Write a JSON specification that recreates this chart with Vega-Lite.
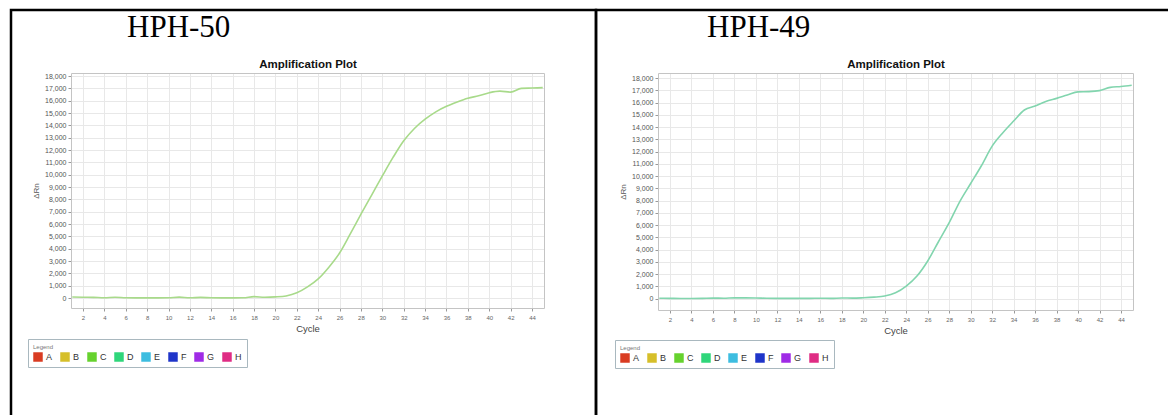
{
  "$schema": "https://vega.github.io/schema/vega-lite/v6.json",
  "background": "white",
  "padding": {"left": 9, "top": 8, "right": 0, "bottom": 0},
  "autosize": {"type": "pad"},
  "bounds": "flush",
  "spacing": 0,
  "datasets": {
    "hph50": [
      {"cycle": 1, "drn": 80}, {"cycle": 2, "drn": 60}, {"cycle": 3, "drn": 50}, {"cycle": 4, "drn": 20}, {"cycle": 5, "drn": 60},
      {"cycle": 6, "drn": 20}, {"cycle": 7, "drn": 10}, {"cycle": 8, "drn": 10}, {"cycle": 9, "drn": 10}, {"cycle": 10, "drn": 20},
      {"cycle": 11, "drn": 70}, {"cycle": 12, "drn": 20}, {"cycle": 13, "drn": 50}, {"cycle": 14, "drn": 20}, {"cycle": 15, "drn": 10},
      {"cycle": 16, "drn": 10}, {"cycle": 17, "drn": 20}, {"cycle": 18, "drn": 110}, {"cycle": 19, "drn": 60}, {"cycle": 20, "drn": 90},
      {"cycle": 21, "drn": 170}, {"cycle": 22, "drn": 420}, {"cycle": 23, "drn": 900}, {"cycle": 24, "drn": 1550}, {"cycle": 25, "drn": 2500},
      {"cycle": 26, "drn": 3650}, {"cycle": 27, "drn": 5200}, {"cycle": 28, "drn": 6800}, {"cycle": 29, "drn": 8350}, {"cycle": 30, "drn": 9900},
      {"cycle": 31, "drn": 11400}, {"cycle": 32, "drn": 12750}, {"cycle": 33, "drn": 13750}, {"cycle": 34, "drn": 14500}, {"cycle": 35, "drn": 15100},
      {"cycle": 36, "drn": 15550}, {"cycle": 37, "drn": 15900}, {"cycle": 38, "drn": 16200}, {"cycle": 39, "drn": 16400}, {"cycle": 40, "drn": 16650},
      {"cycle": 41, "drn": 16780}, {"cycle": 42, "drn": 16700}, {"cycle": 43, "drn": 17000}, {"cycle": 44, "drn": 17030}, {"cycle": 45, "drn": 17060}
    ],
    "hph49": [
      {"cycle": 1, "drn": 40}, {"cycle": 2, "drn": 30}, {"cycle": 3, "drn": 20}, {"cycle": 4, "drn": 20}, {"cycle": 5, "drn": 30},
      {"cycle": 6, "drn": 50}, {"cycle": 7, "drn": 40}, {"cycle": 8, "drn": 70}, {"cycle": 9, "drn": 70}, {"cycle": 10, "drn": 60},
      {"cycle": 11, "drn": 40}, {"cycle": 12, "drn": 30}, {"cycle": 13, "drn": 30}, {"cycle": 14, "drn": 30}, {"cycle": 15, "drn": 30},
      {"cycle": 16, "drn": 40}, {"cycle": 17, "drn": 30}, {"cycle": 18, "drn": 60}, {"cycle": 19, "drn": 50}, {"cycle": 20, "drn": 80},
      {"cycle": 21, "drn": 130}, {"cycle": 22, "drn": 220}, {"cycle": 23, "drn": 480}, {"cycle": 24, "drn": 1030}, {"cycle": 25, "drn": 1850},
      {"cycle": 26, "drn": 3080}, {"cycle": 27, "drn": 4650}, {"cycle": 28, "drn": 6200}, {"cycle": 29, "drn": 7950}, {"cycle": 30, "drn": 9400},
      {"cycle": 31, "drn": 10850}, {"cycle": 32, "drn": 12450}, {"cycle": 33, "drn": 13550}, {"cycle": 34, "drn": 14500}, {"cycle": 35, "drn": 15400},
      {"cycle": 36, "drn": 15720}, {"cycle": 37, "drn": 16100}, {"cycle": 38, "drn": 16350}, {"cycle": 39, "drn": 16620}, {"cycle": 40, "drn": 16880},
      {"cycle": 41, "drn": 16900}, {"cycle": 42, "drn": 16980}, {"cycle": 43, "drn": 17250}, {"cycle": 44, "drn": 17320}, {"cycle": 45, "drn": 17420}
    ],
    "wells": [
      {"well": "A"}, {"well": "B"}, {"well": "C"}, {"well": "D"}, {"well": "E"}, {"well": "F"}, {"well": "G"}, {"well": "H"}
    ]
  },
  "hconcat": [
    {
      "width": 585,
      "height": 416,
      "title": {"text": "HPH-50", "anchor": "start", "frame": "group", "orient": "top", "offset": -34, "dx": 116, "baseline": "top", "font": "Liberation Serif", "fontSize": 31, "fontWeight": "normal", "color": "#000"},
      "layer": [
        {
          "data": {"name": "hph50"},
          "mark": {"type": "line", "color": "#a8da8a", "strokeWidth": 1.6, "interpolate": "monotone"},
          "encoding": {
            "x": {"field": "cycle", "type": "quantitative",
              "scale": {"domain": [0.88, 45.12], "range": [60, 533], "nice": false, "zero": false},
              "axis": {"orient": "bottom", "offset": -118, "values": [2,4,6,8,10,12,14,16,18,20,22,24,26,28,30,32,34,36,38,40,42,44], "grid": false, "tickSize": 3, "labelFontSize": 6, "labelColor": "#666", "labelPadding": 3, "title": "Cycle", "titleFontSize": 9.5, "titleFontWeight": "normal", "titleColor": "#444", "titlePadding": 3}},
            "y": {"field": "drn", "type": "quantitative",
              "scale": {"domain": [-810, 18250], "range": [298, 63], "nice": false, "zero": false},
              "axis": {"orient": "left", "offset": -60, "values": [0,1000,2000,3000,4000,5000,6000,7000,8000,9000,10000,11000,12000,13000,14000,15000,16000,17000,18000], "format": ",d", "grid": true, "tickSize": 3, "labelFontSize": 7, "labelColor": "#555", "labelPadding": 2, "title": "ΔRn", "titleFontSize": 8, "titleFontWeight": "normal", "titleColor": "#555", "titlePadding": 4}}
          }
        },
        {
          "data": {"name": "hph50"},
          "mark": {"type": "line", "opacity": 0},
          "encoding": {
            "x": {"field": "cycle", "type": "quantitative",
              "axis": {"orient": "top", "offset": -63, "values": [2,4,6,8,10,12,14,16,18,20,22,24,26,28,30,32,34,36,38,40,42,44], "grid": true, "ticks": false, "labels": false, "title": "Amplification Plot", "titleFontSize": 11.5, "titleFontWeight": "bold", "titleColor": "#111", "titlePadding": 4}},
            "y": {"field": "drn", "type": "quantitative",
              "axis": {"orient": "right", "offset": -52, "grid": false, "ticks": false, "labels": false, "title": null}}
          }
        },
        {
          "data": {"name": "wells"},
          "mark": {"type": "point", "shape": "square", "filled": true, "size": 0, "opacity": 1},
          "encoding": {
            "color": {"field": "well", "type": "nominal",
              "scale": {"domain": ["A","B","C","D","E","F","G","H"], "range": ["#d93c22","#d6bf2a","#66d22e","#2fd67a","#3dbde0","#1f35c9","#9f2be6","#df2c84"]},
              "legend": {"title": "Legend", "orient": "none", "legendX": 17, "legendY": 329, "direction": "horizontal"}}
          }
        }
      ],
      "resolve": {"axis": {"x": "independent", "y": "independent"}}
    },
    {
      "width": 585,
      "height": 416,
      "title": {"text": "HPH-49", "anchor": "start", "frame": "group", "orient": "top", "offset": -34, "dx": 111, "baseline": "top", "font": "Liberation Serif", "fontSize": 31, "fontWeight": "normal", "color": "#000"},
      "layer": [
        {
          "data": {"name": "hph49"},
          "mark": {"type": "line", "color": "#82d5ae", "strokeWidth": 1.6, "interpolate": "monotone"},
          "encoding": {
            "x": {"field": "cycle", "type": "quantitative",
              "scale": {"domain": [0.88, 45.12], "range": [62, 537], "nice": false, "zero": false},
              "axis": {"orient": "bottom", "offset": -116, "values": [2,4,6,8,10,12,14,16,18,20,22,24,26,28,30,32,34,36,38,40,42,44], "grid": false, "tickSize": 3, "labelFontSize": 6, "labelColor": "#666", "labelPadding": 3, "title": "Cycle", "titleFontSize": 9.5, "titleFontWeight": "normal", "titleColor": "#444", "titlePadding": 3}},
            "y": {"field": "drn", "type": "quantitative",
              "scale": {"domain": [-920, 18420], "range": [300, 63], "nice": false, "zero": false},
              "axis": {"orient": "left", "offset": -62, "values": [0,1000,2000,3000,4000,5000,6000,7000,8000,9000,10000,11000,12000,13000,14000,15000,16000,17000,18000], "format": ",d", "grid": true, "tickSize": 3, "labelFontSize": 7, "labelColor": "#555", "labelPadding": 2, "title": "ΔRn", "titleFontSize": 8, "titleFontWeight": "normal", "titleColor": "#555", "titlePadding": 4}}
          }
        },
        {
          "data": {"name": "hph49"},
          "mark": {"type": "line", "opacity": 0},
          "encoding": {
            "x": {"field": "cycle", "type": "quantitative",
              "axis": {"orient": "top", "offset": -63, "values": [2,4,6,8,10,12,14,16,18,20,22,24,26,28,30,32,34,36,38,40,42,44], "grid": true, "ticks": false, "labels": false, "title": "Amplification Plot", "titleFontSize": 11.5, "titleFontWeight": "bold", "titleColor": "#111", "titlePadding": 4}},
            "y": {"field": "drn", "type": "quantitative",
              "axis": {"orient": "right", "offset": -48, "grid": false, "ticks": false, "labels": false, "title": null}}
          }
        },
        {
          "data": {"name": "wells"},
          "mark": {"type": "point", "shape": "square", "filled": true, "size": 0, "opacity": 1},
          "encoding": {
            "color": {"field": "well", "type": "nominal",
              "scale": {"domain": ["A","B","C","D","E","F","G","H"], "range": ["#d93c22","#d6bf2a","#66d22e","#2fd67a","#3dbde0","#1f35c9","#9f2be6","#df2c84"]},
              "legend": {"title": "Legend", "orient": "none", "legendX": 19, "legendY": 330, "direction": "horizontal"}}
          }
        }
      ],
      "resolve": {"axis": {"x": "independent", "y": "independent"}}
    }
  ],
  "resolve": {"scale": {"color": "independent", "x": "independent", "y": "independent"}, "legend": {"color": "independent"}},
  "config": {
    "view": {"stroke": "#000", "strokeWidth": 2.5, "fill": "white"},
    "font": "Liberation Sans",
    "axis": {"labelFont": "Liberation Sans", "titleFont": "Liberation Sans", "minExtent": 0, "labelFlush": false, "labelOverlap": false, "domainColor": "#c4c4c4", "domainWidth": 1, "gridColor": "#e8e8e8", "gridWidth": 1, "tickColor": "#999"},
    "legend": {"titleFont": "Liberation Sans", "titleFontSize": 6, "titleFontWeight": "normal", "titleColor": "#777", "titlePadding": 2, "labelFont": "Liberation Sans", "labelFontSize": 9, "labelColor": "#333", "labelOffset": 3, "symbolType": "square", "symbolSize": 90, "symbolStrokeWidth": 0, "symbolOpacity": 1, "columnPadding": 7, "strokeColor": "#a9b8bf", "fillColor": "white", "padding": 5, "cornerRadius": 0}
  }
}
